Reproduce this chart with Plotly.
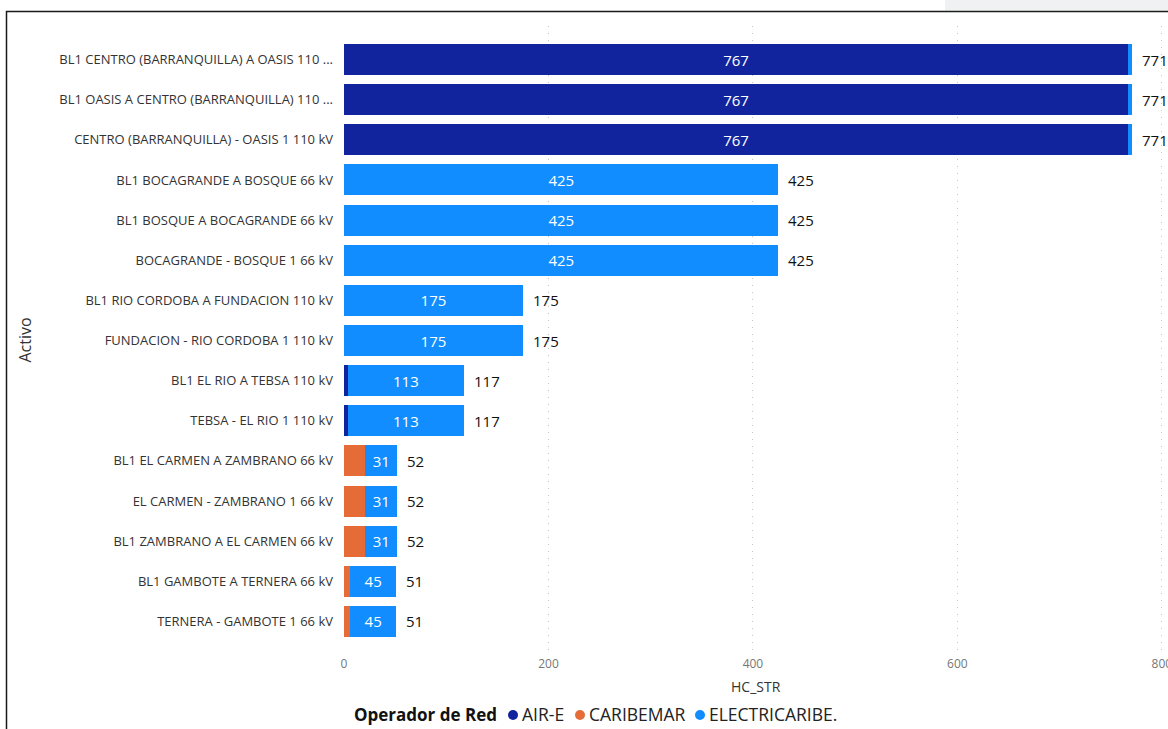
import plotly.graph_objects as go

# Assets (lines / transformers) and HC_STR per network operator
activos = [
    "BL1 CENTRO (BARRANQUILLA) A OASIS 110 ...",
    "BL1 OASIS A CENTRO (BARRANQUILLA) 110 ...",
    "CENTRO (BARRANQUILLA) - OASIS 1 110 kV",
    "BL1 BOCAGRANDE A BOSQUE 66 kV",
    "BL1 BOSQUE A BOCAGRANDE 66 kV",
    "BOCAGRANDE - BOSQUE 1 66 kV",
    "BL1 RIO CORDOBA A FUNDACION 110 kV",
    "FUNDACION - RIO CORDOBA 1 110 kV",
    "BL1 EL RIO A TEBSA 110 kV",
    "TEBSA - EL RIO 1 110 kV",
    "BL1 EL CARMEN A ZAMBRANO 66 kV",
    "EL CARMEN - ZAMBRANO 1 66 kV",
    "BL1 ZAMBRANO A EL CARMEN 66 kV",
    "BL1 GAMBOTE A TERNERA 66 kV",
    "TERNERA - GAMBOTE 1 66 kV",
]

air_e = [767, 767, 767, 0, 0, 0, 0, 0, 4, 4, 0, 0, 0, 0, 0]
caribemar = [0, 0, 0, 0, 0, 0, 0, 0, 0, 0, 21, 21, 21, 6, 6]
electricaribe = [4, 4, 4, 425, 425, 425, 175, 175, 113, 113, 31, 31, 31, 45, 45]

x_ticks = [0, 200, 400, 600, 800]

series = [
    ("AIR-E", air_e, "#12239E"),
    ("CARIBEMAR", caribemar, "#E66C37"),
    ("ELECTRICARIBE.", electricaribe, "#118DFF"),
]

FONT = "Open Sans"

# plot area geometry (pixels)
L, T, B = 344, 26, 655
W_PLOT = 1168 - L
H_PLOT = B - T
X_MAX = 806  # axis runs a little past the last tick


def px_x(px):
    return (px - L) / W_PLOT


def px_y(py):
    return (B - py) / H_PLOT


fig = go.Figure()
for name, vals, color in series:
    fig.add_trace(go.Bar(
        y=activos,
        x=vals,
        name=name,
        orientation="h",
        marker=dict(color=color, line=dict(width=0)),
        text=[str(v) if v >= 25 else "" for v in vals],
        textposition="inside",
        insidetextanchor="middle",
        constraintext="none",
        textfont=dict(family=FONT, size=15, color="white"),
        showlegend=False,
    ))

totals = [a + c + e for a, c, e in zip(air_e, caribemar, electricaribe)]
annotations = []
for cat, tot in zip(activos, totals):
    annotations.append(dict(
        x=tot, y=cat, xref="x", yref="y", text=str(tot),
        showarrow=False, xanchor="left", yanchor="middle", xshift=8,
        font=dict(family=FONT, size=15, color="#111111"),
    ))

# axis titles
annotations.append(dict(
    x=px_x(756), y=px_y(686), xref="paper", yref="paper",
    text="HC_STR", showarrow=False, xanchor="center", yanchor="middle",
    font=dict(family=FONT, size=14, color="#333333"),
))
annotations.append(dict(
    x=px_x(24), y=0.5, xref="paper", yref="paper", text="Activo",
    showarrow=False, xanchor="center", yanchor="middle", textangle=-90,
    font=dict(family=FONT, size=16, color="#333333"),
))

# legend row: title, then a coloured dot + label per operator
LEG_Y = 714
annotations.append(dict(
    x=px_x(352), y=px_y(LEG_Y), xref="paper", yref="paper",
    text="<b>Operador de Red</b>", showarrow=False,
    xanchor="left", yanchor="middle",
    font=dict(family=FONT, size=17, color="#111111"),
))
legend_dots = [513, 580, 700]
shapes = []
for (name, _, color), dot_x in zip(series, legend_dots):
    shapes.append(dict(
        type="circle", xref="paper", yref="paper",
        xsizemode="pixel", ysizemode="pixel",
        xanchor=px_x(dot_x), yanchor=px_y(LEG_Y + 1),
        x0=-5, x1=5, y0=-5, y1=5,
        fillcolor=color, line=dict(width=0),
    ))
    annotations.append(dict(
        x=px_x(dot_x + 7), y=px_y(LEG_Y), xref="paper", yref="paper",
        text=name, showarrow=False, xanchor="left", yanchor="middle",
        font=dict(family=FONT, size=17.5, color="#222222"),
    ))

# screen strip above the frame and the frame itself
shapes.append(dict(
    type="rect", xref="paper", yref="paper",
    x0=px_x(945), x1=1.01, y0=px_y(10.5), y1=px_y(-1),
    fillcolor="#f0f1f3", line=dict(width=0), layer="below",
))
shapes.append(dict(
    type="rect", xref="paper", yref="paper",
    x0=px_x(6.5), x1=px_x(1180), y0=px_y(745), y1=px_y(11.5),
    line=dict(color="#1a1a1a", width=1.5), fillcolor="rgba(0,0,0,0)",
))

fig.update_layout(
    width=1168, height=729,
    margin=dict(l=L, r=0, t=T, b=729 - B, autoexpand=False),
    paper_bgcolor="white", plot_bgcolor="white",
    barmode="stack", bargap=0.23,
    font=dict(family=FONT),
    annotations=annotations,
    shapes=shapes,
    xaxis=dict(
        range=[0, X_MAX], tickvals=x_ticks, ticktext=[str(t) for t in x_ticks],
        showgrid=True, gridcolor="#c4c4c4", griddash="1px,6px", gridwidth=1,
        zeroline=False, showline=False, ticks="",
        automargin=False, ticklabeloverflow="allow",
        tickfont=dict(family=FONT, size=12, color="#777777"),
    ),
    yaxis=dict(
        categoryorder="array", categoryarray=activos,
        range=[14.835, -0.835],
        showgrid=False, zeroline=False, showline=False, ticks="",
        automargin=False, ticklabelstandoff=10,
        tickfont=dict(family=FONT, size=13, color="#333333"),
    ),
)

fig.write_html("out.html")
